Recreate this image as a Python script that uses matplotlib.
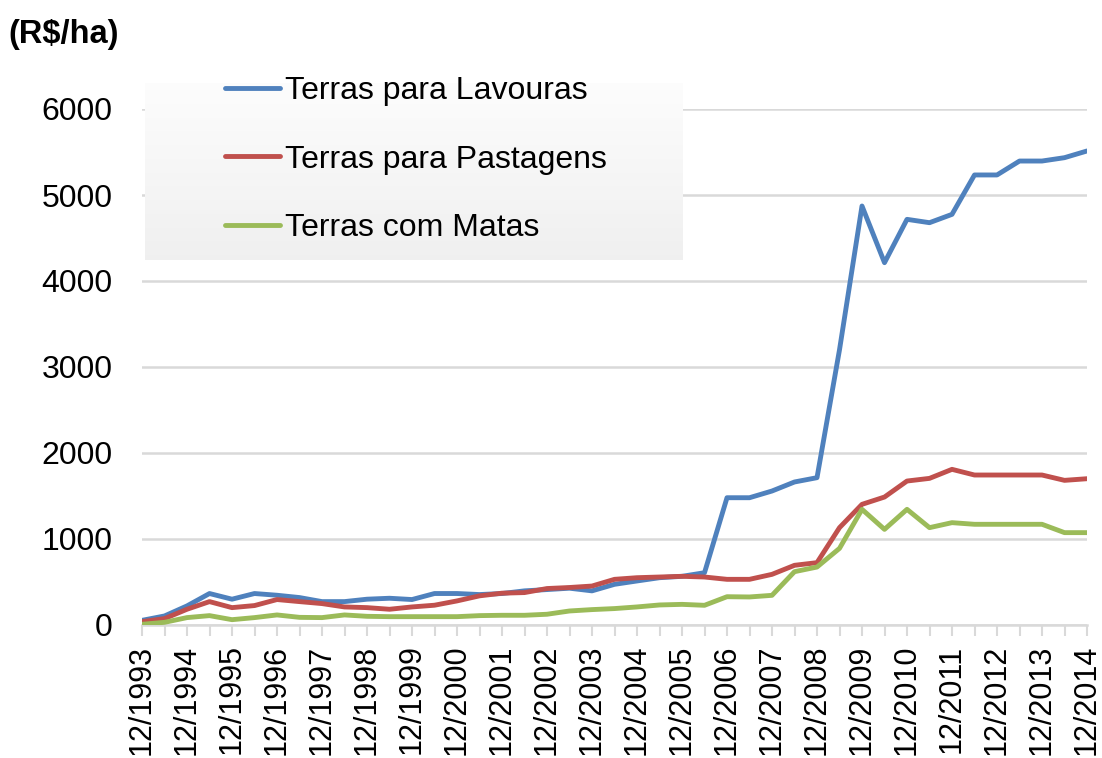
import matplotlib
matplotlib.use("Agg")
import matplotlib.pyplot as plt
import numpy as np

plt.rcParams['font.family'] = ['Liberation Sans', 'DejaVu Sans']

# Dados (semestrais, 12/1993 a 12/2014) em R$/ha
anos = list(range(1993, 2015))
lavouras = [54, 105, 222, 366, 300, 366, 346, 319, 272, 272, 300, 311, 296, 366, 366,
            354, 366, 397, 412, 428, 397, 473, 512, 550, 566, 608, 1480, 1480, 1558,
            1663, 1713, 3200, 4872, 4213, 4717, 4678, 4775, 5233, 5233, 5395, 5395,
            5434, 5512]
pastagens = [39, 74, 183, 272, 202, 226, 296, 272, 249, 210, 202, 183, 210, 230, 280,
             339, 370, 377, 424, 436, 453, 531, 550, 558, 566, 558, 531, 531, 589, 694,
             725, 1132, 1403, 1488, 1674, 1705, 1810, 1744, 1744, 1744, 1744, 1682, 1701]
matas = [8, 31, 86, 109, 62, 86, 117, 89, 86, 117, 101, 97, 97, 97, 97, 109, 113, 113,
         125, 163, 179, 191, 210, 233, 240, 229, 329, 326, 345, 620, 674, 891, 1345,
         1112, 1345, 1132, 1190, 1171, 1171, 1171, 1171, 1074, 1074]

nomes = ['Terras para Lavouras', 'Terras para Pastagens', 'Terras com Matas']
cores = ['#4f81bd', '#c0504d', '#9bbb59']

x = np.arange(len(lavouras))
rotulos = []
for i in x:
    rotulos.append(f'12/{anos[i // 2]}' if i % 2 == 0 else '')

fig = plt.figure(figsize=(11.02, 7.58), dpi=100)
ax = fig.add_axes([142 / 1102, 1 - 625 / 758, (1087 - 142) / 1102, (625 - 109) / 758])

linhas = []
for serie, nome, cor in zip([lavouras, pastagens, matas], nomes, cores):
    l, = ax.plot(x, serie, color=cor, lw=3.5, label=nome, solid_capstyle='round',
                 solid_joinstyle='round', zorder=3)
    linhas.append(l)

ax.set_xlim(0, len(x) - 1)
ax.set_ylim(0, 6000)
ax.set_yticks(range(0, 6001, 1000))
ax.grid(axis='y', color='#d9d9d9', lw=1.8)
ax.set_axisbelow(True)
for s in ['top', 'right', 'left']:
    ax.spines[s].set_visible(False)
ax.spines['bottom'].set_color('#d9d9d9')
ax.spines['bottom'].set_linewidth(1.8)
ax.set_xticks(x)
ax.set_xticklabels(rotulos, rotation=90, fontsize=22)
ax.tick_params(axis='x', length=8, width=1.5, color='#d9d9d9', pad=6)
ax.tick_params(axis='y', length=0, labelsize=23, pad=21)

fig.text(8 / 1102, 1 - 35 / 758, '(R$/ha)', fontsize=23.5, fontweight='bold', va='center')

# caixa da legenda com fundo em degradê
lax = fig.add_axes([145 / 1102, 1 - 260 / 758, (683 - 145) / 1102, (260 - 83) / 758])
grad = np.linspace(0.99, 0.94, 100).reshape(-1, 1)
lax.imshow(np.dstack([grad, grad, grad]), aspect='auto', extent=[0, 1, 0, 1])
lax.set_xlim(0, 1)
lax.set_ylim(0, 1)
lax.axis('off')
lax.legend(linhas, nomes, loc='upper left', bbox_to_anchor=(0.1487, 1.04), frameon=False,
           fontsize=23, handlelength=1.72, handletextpad=0.16, labelspacing=1.21,
           borderpad=0, borderaxespad=0)

fig.savefig('out.png', dpi=100)
